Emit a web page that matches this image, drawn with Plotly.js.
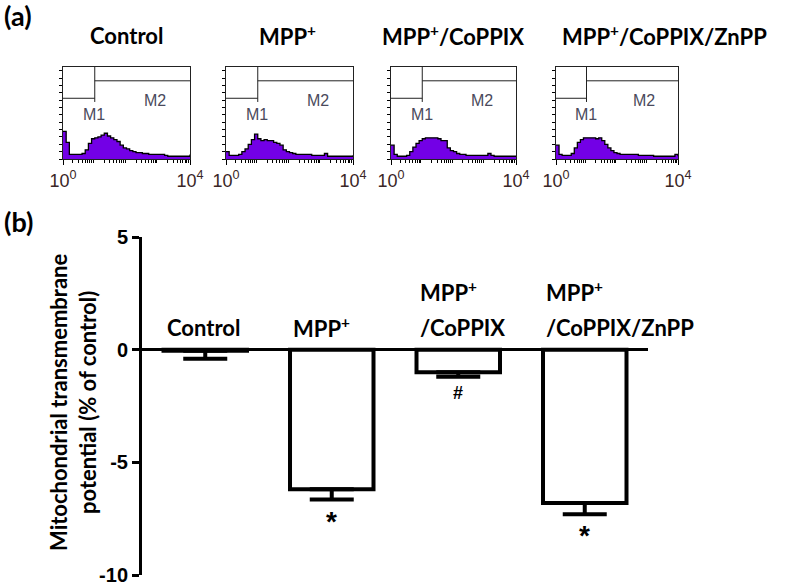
<!DOCTYPE html>
<html>
<head>
<meta charset="utf-8">
<script src="https://cdn.plot.ly/plotly-3.0.1.min.js"></script>
<style>html,body{margin:0;padding:0;background:#fff}#chart{width:787px;height:586px}</style>
</head>
<body>
<div id="chart"></div>
<script>
// ---------- Panel (a): flow cytometry histograms ----------
const panelTitles = ["Control", "MPP<sup>+</sup>", "MPP<sup>+</sup>/CoPPIX", "MPP<sup>+</sup>/CoPPIX/ZnPP"];
// bin positions in decades (log10 of fluorescence)
const binDecades = [0.0,0.1,0.2,0.3,0.4,0.5,0.6,0.7,0.8,0.9,1.0,1.1,1.2,1.3,1.4,1.5,1.6,1.7,1.8,1.9,2.0,
                    2.1,2.2,2.3,2.4,2.5,2.6,2.7,2.8,2.9,3.0,3.1,3.2,3.3,3.4,3.5,3.6,3.7,3.8,3.9,4.0];
// counts as % of histogram box height
const histControl = [30,18,5,5,5,5,6,10,17,22,23,24,26,28,25,23,21,19,15,12,11,9,8,7,7,6,6,5,5,5,5,5,4,3,3,3,3,3,3,3,5];
const histMPP     = [8,4,4,4,5,8,11,16,21,27,22,20,21,20,20,18,17,15,10,8,7,6,5,5,5,5,5,4,4,4,4,6,3,3,3,3,3,3,3,3,4];
const histCoPPIX  = [15,5,3,3,3,4,8,13,17,20,22,23,23,23,23,22,20,20,12,9,8,6,5,5,4,4,4,4,4,4,4,6,4,3,3,3,3,3,3,3,3];
const histZnPP    = [15,5,4,4,4,6,12,18,21,23,23,23,23,22,23,20,16,12,9,7,6,5,5,5,5,5,5,4,4,4,4,4,3,3,3,3,3,3,3,5,3];
const histograms = [histControl, histMPP, histCoPPIX, histZnPP];
const gateM1 = [0, 1];      // decades
const gateM2 = [1, 4];
const gateLabels = ["M1", "M2"];
const axisTickLabels = ["10<sup>0</sup>", "10<sup>4</sup>"];

// ---------- Panel (b): bar chart ----------
const categories = ["Control", "MPP+", "MPP+/CoPPIX", "MPP+/CoPPIX/ZnPP"];
const labelTop    = ["", "", "MPP<sup>+</sup>", "MPP<sup>+</sup>"];
const labelBottom = ["Control", "MPP<sup>+</sup>", "/CoPPIX", "/CoPPIX/ZnPP"];
const meanValues  = [-0.05, -6.2, -1.0, -6.8];
const semValues   = [0.35, 0.45, 0.2, 0.5];
const significance = ["", "*", "#", "*"];
const yTickVals = [5, 0, -5, -10];
const yTickText = ["5", "0", "-5", "-10"];

const W = 787, H = 586;
const px = v => v / W, py = v => 1 - v / H;

const boxX = [[63,190],[226,353],[391,516],[556,678]];
const titleX = [126, 287, 453, 664];
const purple = '#7300e6';

const traces = [];
const layout = {
  width: W, height: H,
  margin: {l:0, r:0, t:0, b:0},
  paper_bgcolor: '#fff', plot_bgcolor: 'rgba(0,0,0,0)',
  showlegend: false,
  font: {family: 'Lato, sans-serif', color: '#000'},
  annotations: [], shapes: []
};

// minor tick positions for log decades
const minorVals = [];
for (let d = 0; d < 4; d++) for (let k = 2; k <= 9; k++) minorVals.push(d + Math.log10(k));

histograms.forEach((h, i) => {
  const n = i + 1;
  const xa = 'xaxis' + n, ya = 'yaxis' + n;
  const xr = 'x' + n, yr = 'y' + n;
  traces.push({
    type: 'scatter', mode: 'lines', x: binDecades, y: h,
    xaxis: xr, yaxis: yr,
    line: {shape: 'hv', color: '#000', width: 1.3},
    fill: 'tozeroy', fillcolor: purple, hoverinfo: 'skip'
  });
  layout[xa] = {
    domain: [px(boxX[i][0]), px(boxX[i][1])], anchor: yr,
    range: [0, 4], showgrid: false, zeroline: false,
    showline: true, linecolor: '#222', linewidth: 1, mirror: true,
    ticks: 'outside', ticklen: 5, tickwidth: 1, tickcolor: '#000',
    tickmode: 'array', tickvals: [0, 4], ticktext: axisTickLabels,
    tickfont: {family: 'Liberation Sans, Arial, sans-serif', size: 18, color: '#3a2626'},
    minor: {tickmode: 'array', tickvals: minorVals, ticks: 'outside', ticklen: 3, tickwidth: 1, tickcolor: '#000', showgrid: false},
    fixedrange: true
  };
  layout[ya] = {
    domain: [py(159), py(67)], anchor: xr,
    range: [0, 100], showgrid: false, zeroline: false,
    showline: true, linecolor: '#222', linewidth: 1, mirror: true,
    ticks: 'outside', ticklen: 3, tickwidth: 1, tickcolor: '#000',
    tickmode: 'linear', tick0: 0, dtick: 8, showticklabels: false,
    fixedrange: true
  };
  // gate markers
  layout.shapes.push({type:'line', xref:xr, yref:yr, x0:gateM1[1], x1:gateM1[1], y0:100, y1:62, line:{color:'#222', width:1}});
  layout.shapes.push({type:'line', xref:xr, yref:yr, x0:gateM1[0], x1:gateM1[1], y0:66, y1:66, line:{color:'#222', width:1}});
  layout.shapes.push({type:'line', xref:xr, yref:yr, x0:gateM2[0], x1:gateM2[1], y0:85, y1:85, line:{color:'#222', width:1}});
  layout.annotations.push({xref:xr, yref:yr, x:(gateM1[0]+gateM1[1])/2 + 0.48, y:48, xanchor:'center', yanchor:'middle',
    text:gateLabels[0], showarrow:false,
    font:{family:'Liberation Sans, Arial, sans-serif', size:16, color:'#4a4a5c'}});
  layout.annotations.push({xref:xr, yref:yr, x:2.9, y:64, xanchor:'center', yanchor:'middle', text:gateLabels[1], showarrow:false,
    font:{family:'Liberation Sans, Arial, sans-serif', size:16, color:'#4a4a5c'}});
  layout.annotations.push({xref:'paper', yref:'paper', x:px(titleX[i]), y:py(35), xanchor:'center', yanchor:'middle',
    text:'<b>' + panelTitles[i] + '</b>', showarrow:false,
    font:{family:'Lato, sans-serif', size:22, weight:'bold', color:'#000'}});
});

// bar chart
traces.push({
  type: 'bar', x: [0,1,2,3], y: meanValues, xaxis: 'x5', yaxis: 'y5', width: 0.66,
  marker: {color: '#fff', line: {color: '#000', width: 4}},
  error_y: {type: 'data', symmetric: false, array: [0,0,0,0], arrayminus: semValues, color: '#000', thickness: 4, width: 22},
  hoverinfo: 'skip'
});
layout.xaxis5 = {
  domain: [px(142), px(648)], anchor: 'y5', range: [-0.5, 3.5],
  showline: false, showgrid: false, zeroline: false, showticklabels: false, ticks: '', fixedrange: true
};
layout.yaxis5 = {
  domain: [py(575), py(237)], anchor: 'x5', range: [-10, 5],
  showline: true, linecolor: '#000', linewidth: 3, showgrid: false,
  zeroline: true, zerolinecolor: '#000', zerolinewidth: 3,
  ticks: 'outside', ticklen: 7, tickwidth: 3, tickcolor: '#000',
  tickmode: 'array', tickvals: yTickVals, ticktext: yTickText,
  ticklabeloverflow: 'allow',
  tickfont: {family: 'Liberation Sans, Arial, sans-serif', size: 20, weight: 'bold', color: '#000'},
  fixedrange: true
};
categories.forEach((c, i) => {
  layout.annotations.push({xref:'x5', yref:'y5', x:i - 0.33, y:1.0, xanchor:'left', yanchor:'middle', xshift:1,
    text:'<b>' + labelBottom[i] + '</b>', showarrow:false,
    font:{family:'Lato, sans-serif', size:22, weight:'bold', color:'#000'}});
  if (labelTop[i]) layout.annotations.push({xref:'x5', yref:'y5', x:i - 0.33, y:2.6, xanchor:'left', yanchor:'middle', xshift:1,
    text:'<b>' + labelTop[i] + '</b>', showarrow:false,
    font:{family:'Lato, sans-serif', size:22, weight:'bold', color:'#000'}});
  if (significance[i]) {
    const isStar = significance[i] === '*';
    layout.annotations.push({xref:'x5', yref:'y5', x:i, y:meanValues[i] - semValues[i], xanchor:'center', yanchor:'top',
      yshift: isStar ? -4 : -4, text:'<b>' + significance[i] + '</b>', showarrow:false,
      font:{family:'Liberation Sans, Arial, sans-serif', size: isStar ? 28 : 18, weight:'bold', color:'#000'}});
  }
});

// y-axis title
layout.annotations.push({xref:'paper', yref:'paper', x:px(73), y:py(403), xanchor:'center', yanchor:'middle', textangle:-90,
  text:'<b>Mitochondrial transmembrane<br>potential (% of control)</b>', showarrow:false,
  font:{family:'Lato, sans-serif', size:22, weight:'bold', color:'#000'}});
// panel labels
layout.annotations.push({xref:'paper', yref:'paper', x:px(2), y:py(16), xanchor:'left', yanchor:'middle', text:'<b>(a)</b>', showarrow:false,
  font:{family:'Lato, sans-serif', size:27, weight:'bold', color:'#000'}});
layout.annotations.push({xref:'paper', yref:'paper', x:px(2), y:py(222), xanchor:'left', yanchor:'middle', text:'<b>(b)</b>', showarrow:false,
  font:{family:'Lato, sans-serif', size:27, weight:'bold', color:'#000'}});

Plotly.newPlot('chart', traces, layout, {staticPlot: true, displayModeBar: false});
</script>
</body>
</html>
